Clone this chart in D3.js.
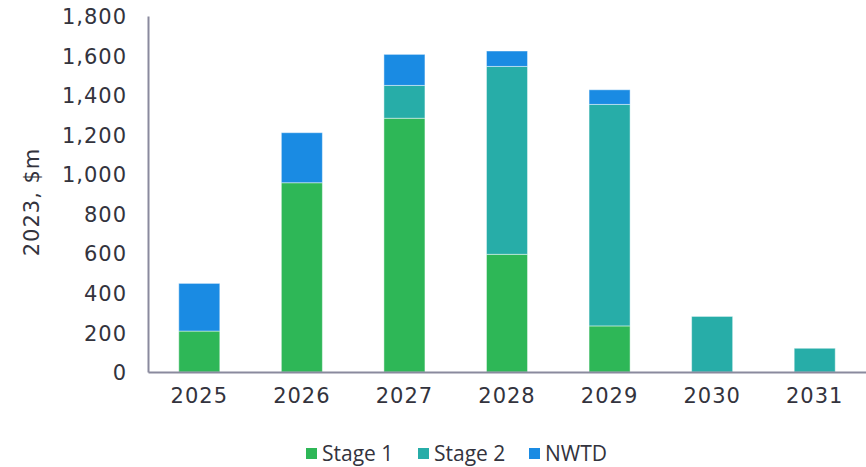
<!DOCTYPE html>
<html>
<head>
<meta charset="utf-8">
<script src="https://cdn.jsdelivr.net/npm/d3@7"></script>
<style>
  body { margin: 0; background: #fff; }
  text { font-family: "DejaVu Sans", sans-serif; fill: #33333d; }
</style>
</head>
<body>
<div id="chart"></div>
<script>
const years = ["2025", "2026", "2027", "2028", "2029", "2030", "2031"];
const stage1 = [207, 957, 1283, 595, 233, 0, 0];
const stage2 = [0, 0, 166, 950, 1120, 281, 120];
const nwtd = [241, 253, 157, 78, 74, 0, 0];
const seriesNames = ["Stage 1", "Stage 2", "NWTD"];
const colors = ["#2eb757", "#27ada8", "#1a8be3"];
const yTicks = [0, 200, 400, 600, 800, 1000, 1200, 1400, 1600, 1800];

let margin = { top: 16, right: 0, bottom: 95, left: 148 },
  width = 866 - margin.left - margin.right,
  height = 467 - margin.top - margin.bottom;

let svg = d3.select("#chart")
  .append("svg")
  .attr("width", 866)
  .attr("height", 467);

let g = svg.append("g")
  .attr("transform", "translate(" + margin.left + "," + margin.top + ")");

let rows = years.map(function (y, i) {
  return { year: y, "Stage 1": stage1[i], "Stage 2": stage2[i], "NWTD": nwtd[i] };
});
let stacked = d3.stack().keys(seriesNames)(rows);

let x = d3.scaleBand().domain(years).range([0, width]).paddingInner(0.6).paddingOuter(0.3);
let y = d3.scaleLinear().domain([0, 1800]).range([height, 0]);

// bars
g.selectAll("g.series")
  .data(stacked)
  .enter()
  .append("g")
  .attr("fill", function (d, i) { return colors[i]; })
  .selectAll("rect")
  .data(function (d) { return d.filter(function (p) { return p[1] - p[0] > 0; }); })
  .enter()
  .append("rect")
  .attr("x", function (d) { return x(d.data.year); })
  .attr("width", x.bandwidth())
  .attr("y", function (d) { return y(d[1]); })
  .attr("height", function (d) { return y(d[0]) - y(d[1]); })
  .attr("stroke", "rgba(255,255,255,0.45)")
  .attr("stroke-width", 1);

// y axis
let yAxis = g.append("g")
  .call(d3.axisLeft(y).tickValues(yTicks).tickSize(0).tickPadding(21).tickFormat(d3.format(",")));
yAxis.select(".domain").attr("stroke", "#8a8a9e").attr("stroke-width", 2);
yAxis.selectAll("text")
  .style("font-size", "21px")
  .style("letter-spacing", "1px")
  .attr("dy", "0.36em");

// x axis
let xAxis = g.append("g")
  .attr("transform", "translate(0," + height + ")")
  .call(d3.axisBottom(x).tickSize(0).tickPadding(23));
xAxis.select(".domain").attr("stroke", "#8a8a9e").attr("stroke-width", 2);
xAxis.selectAll("text")
  .style("font-size", "21px")
  .style("letter-spacing", "1px")
  .attr("dy", "0.36em");

// y title
svg.append("text")
  .attr("transform", "translate(39," + 202 + ") rotate(-90)")
  .style("text-anchor", "middle")
  .style("font-size", "21px")
  .style("letter-spacing", "1px")
  .text("2023, $m");

// legend
let legendX = [306, 418, 529];
let legend = svg.selectAll("g.legend")
  .data(seriesNames)
  .enter()
  .append("g")
  .attr("transform", function (d, i) { return "translate(" + legendX[i] + ",448)"; });
legend.append("rect")
  .attr("width", 11)
  .attr("height", 11)
  .attr("fill", function (d, i) { return colors[i]; });
legend.append("text")
  .attr("x", 16)
  .attr("y", 13)
  .style("font-family", "'Open Sans', sans-serif")
  .style("font-size", "21px")
  .text(function (d) { return d; });
</script>
</body>
</html>
